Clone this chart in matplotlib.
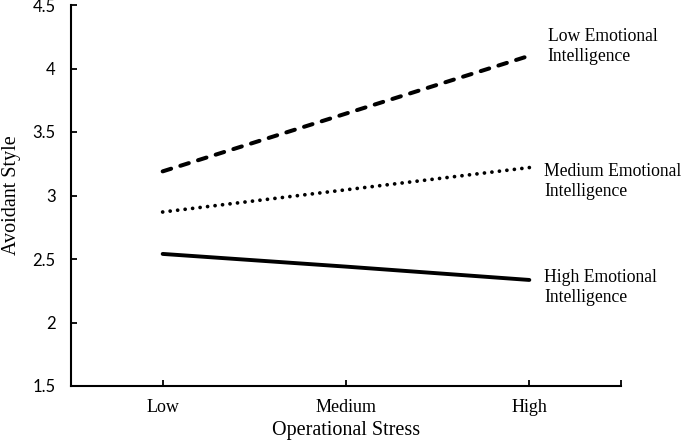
import numpy as np
import matplotlib.pyplot as plt

stress_levels = ['Low', 'Medium', 'High']
low_ei = [3.19, 3.645, 4.10]
medium_ei = [2.87, 3.045, 3.22]
high_ei = [2.54, 2.44, 2.335]
series_labels = ['Low Emotional\nIntelligence', 'Medium Emotional\nIntelligence', 'High Emotional\nIntelligence']

serif = 'Liberation Serif'

fig = plt.figure(figsize=(6.85, 4.43), dpi=100)
ax = fig.add_axes([71 / 685, 1 - 386 / 443, 550 / 685, 381 / 443])

x = np.arange(len(stress_levels))
ax.plot(x, low_ei, color='black', lw=2.9, linestyle=(0, (2.2, 2.4)), dash_capstyle='round')
ax.plot(x, medium_ei, color='black', lw=2.7, linestyle=(0, (0.01, 2.0)), dash_capstyle='round')
ax.plot(x, high_ei, color='black', lw=2.8, solid_capstyle='round')

# series labels placed right of the last point
label_y = [4.17, 3.11, 2.276]
label_x = [2.10, 2.08, 2.08]
for lx, ly, txt in zip(label_x, label_y, series_labels):
    ax.text(lx, ly, txt, fontsize=12.7, family=serif, va='center', ha='left',
            linespacing=1.22, clip_on=False)

ax.set_xlim(-0.5, 2.5)
ax.set_ylim(1.5, 4.5)
ax.set_yticks(np.arange(1.5, 4.51, 0.5))
ax.set_yticklabels(['1.5', '2', '2.5', '3', '3.5', '4', '4.5'], family='Lato', fontsize=12)
ax.set_xticks(x)
ax.set_xticklabels(stress_levels, family=serif, fontsize=13)
ax.set_xticks([2.5], minor=True)
ax.tick_params(axis='both', direction='in', length=4, width=1.3)
ax.tick_params(axis='y', pad=11)
ax.tick_params(axis='x', which='minor', direction='in', length=4, width=1.3)
ax.tick_params(axis='x', pad=9)

for s in ['top', 'right']:
    ax.spines[s].set_visible(False)
for s in ['left', 'bottom']:
    ax.spines[s].set_linewidth(1.5)

ax.set_xlabel('Operational Stress', family=serif, fontsize=14.5, labelpad=4)
ax.set_ylabel('Avoidant Style', family=serif, fontsize=14.5, labelpad=8)

fig.savefig('out.png', dpi=100)
